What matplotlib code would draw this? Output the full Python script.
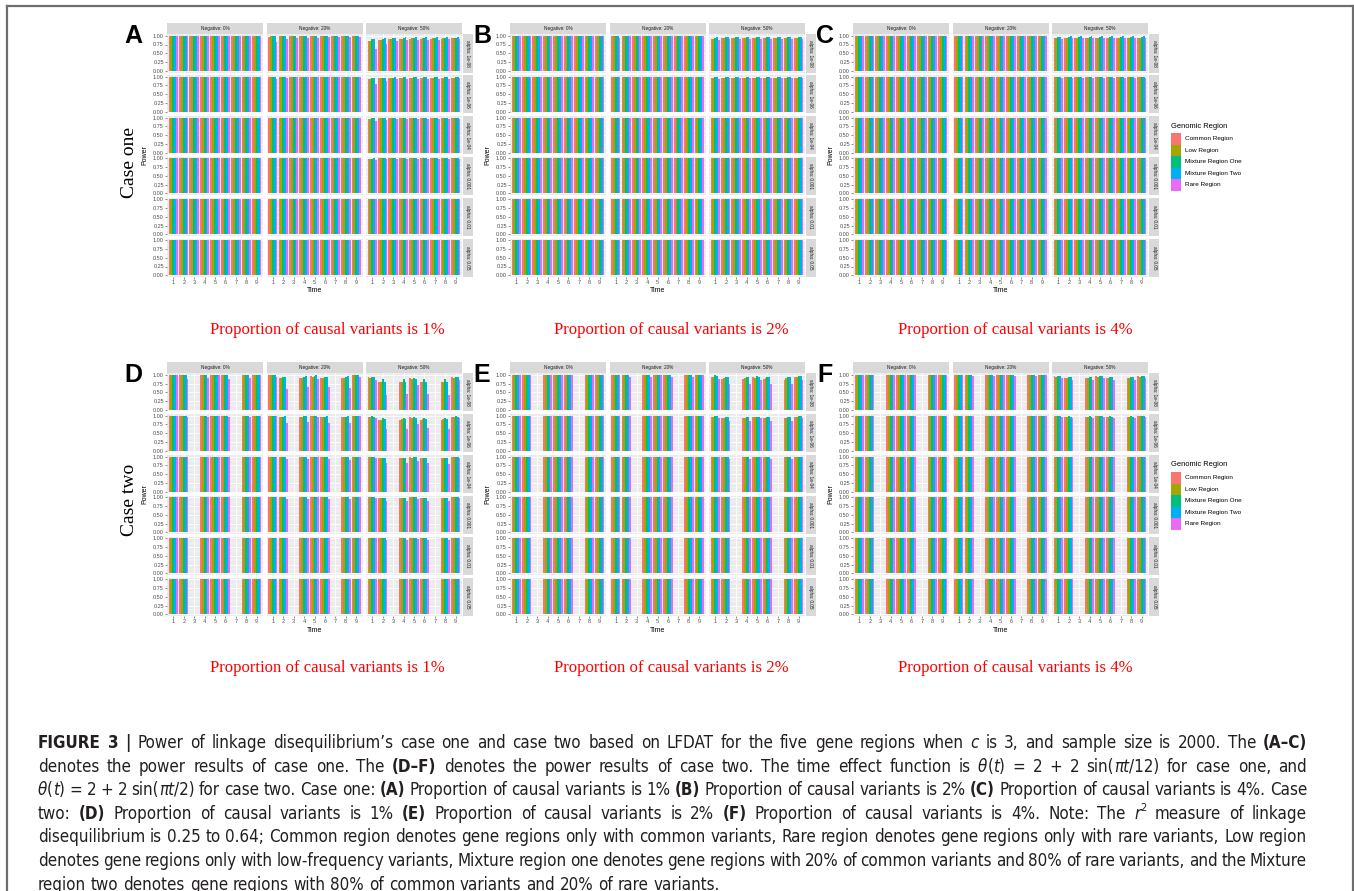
import re
import numpy as np
import matplotlib.pyplot as plt
from matplotlib import font_manager
from matplotlib.patches import Rectangle
from matplotlib.lines import Line2D

W, H = 1354, 891

regions = ["Common Region", "Low Region", "Mixture Region One",
           "Mixture Region Two", "Rare Region"]
region_colors = ["#F8766D", "#A3A500", "#00BF7D", "#00B0F6", "#E76BF3"]
times = [1, 2, 3, 4, 5, 6, 7, 8, 9]
case_two_times = [1, 2, 4, 5, 6, 8, 9]  # theta(t) = 0 at t = 3, 7
negative_levels = ["Negative: 0%", "Negative: 20%", "Negative: 50%"]
alpha_levels = ["alpha: 1e-08", "alpha: 1e-06", "alpha: 1e-04",
                "alpha: 0.001", "alpha: 0.01", "alpha: 0.05"]
proportions = ["1%", "2%", "4%"]
case_names = ["Case one", "Case two"]
full_power = 1.0

# power per facet, key = (negative level, alpha level), one row per time,
# one column per region; facets not listed have full power
power_a = {
    (1, 0): [[0.97, 0.98, 0.98, 0.99, 0.83], [0.98, 0.98, 0.99, 0.99, 0.92],
             [0.98, 0.99, 0.99, 0.99, 0.94], [0.99, 0.99, 0.99, 1.00, 0.95],
             [0.99, 0.99, 1.00, 1.00, 0.95], [0.99, 0.99, 1.00, 1.00, 0.96],
             [0.99, 0.99, 1.00, 1.00, 0.96], [0.99, 0.99, 1.00, 1.00, 0.96],
             [0.99, 0.99, 1.00, 1.00, 0.97]],
    (1, 1): [[0.99, 0.99, 0.99, 1.00, 0.93], [0.99, 0.99, 1.00, 1.00, 0.97],
             [1.00, 1.00, 1.00, 1.00, 0.98], [1.00, 1.00, 1.00, 1.00, 0.98],
             [1.00, 1.00, 1.00, 1.00, 0.98], [1.00, 1.00, 1.00, 1.00, 0.98],
             [1.00, 1.00, 1.00, 1.00, 0.98], [1.00, 1.00, 1.00, 1.00, 0.99],
             [1.00, 1.00, 1.00, 1.00, 0.99]],
    (2, 0): [[0.85, 0.86, 0.90, 0.92, 0.62], [0.87, 0.88, 0.92, 0.94, 0.77],
             [0.90, 0.91, 0.93, 0.95, 0.85], [0.91, 0.92, 0.94, 0.96, 0.87],
             [0.92, 0.93, 0.95, 0.96, 0.88], [0.92, 0.93, 0.95, 0.97, 0.89],
             [0.92, 0.93, 0.95, 0.97, 0.89], [0.92, 0.93, 0.95, 0.97, 0.90],
             [0.93, 0.93, 0.95, 0.97, 0.90]],
    (2, 1): [[0.93, 0.93, 0.95, 0.96, 0.80], [0.95, 0.95, 0.97, 0.97, 0.87],
             [0.96, 0.96, 0.97, 0.98, 0.92], [0.97, 0.97, 0.98, 0.98, 0.93],
             [0.97, 0.97, 0.98, 0.99, 0.94], [0.97, 0.97, 0.98, 0.99, 0.94],
             [0.97, 0.97, 0.98, 0.99, 0.94], [0.97, 0.97, 0.98, 0.99, 0.94],
             [0.97, 0.97, 0.98, 0.99, 0.95]],
    (2, 2): [[0.97, 0.97, 0.98, 0.98, 0.90], [0.98, 0.98, 0.99, 0.99, 0.94],
             [0.99, 0.99, 0.99, 1.00, 0.96], [0.99, 0.99, 0.99, 1.00, 0.96],
             [0.99, 0.99, 0.99, 1.00, 0.96], [0.99, 0.99, 0.99, 1.00, 0.97],
             [0.99, 0.99, 0.99, 1.00, 0.97], [0.99, 0.99, 0.99, 1.00, 0.97],
             [0.99, 0.99, 0.99, 1.00, 0.97]],
    (2, 3): [[0.99, 0.99, 0.99, 1.00, 0.95], [1.00, 1.00, 1.00, 1.00, 0.98],
             [1.00, 1.00, 1.00, 1.00, 0.98], [1.00, 1.00, 1.00, 1.00, 0.99],
             [1.00, 1.00, 1.00, 1.00, 0.99], [1.00, 1.00, 1.00, 1.00, 0.99],
             [1.00, 1.00, 1.00, 1.00, 0.99], [1.00, 1.00, 1.00, 1.00, 0.99],
             [1.00, 1.00, 1.00, 1.00, 0.99]],
}

power_b = {
    (1, 0): [[0.99, 0.99, 0.99, 1.00, 0.95], [1.00, 1.00, 1.00, 1.00, 0.98],
             [1.00, 1.00, 1.00, 1.00, 0.98], [1.00, 1.00, 1.00, 1.00, 0.98],
             [1.00, 1.00, 1.00, 1.00, 0.98], [1.00, 1.00, 1.00, 1.00, 0.98],
             [1.00, 1.00, 1.00, 1.00, 0.98], [1.00, 1.00, 1.00, 1.00, 0.98],
             [1.00, 1.00, 1.00, 1.00, 0.98]],
    (2, 0): [[0.92, 0.92, 0.95, 0.96, 0.88], [0.93, 0.93, 0.96, 0.97, 0.90],
             [0.94, 0.94, 0.96, 0.97, 0.92], [0.94, 0.94, 0.96, 0.97, 0.92],
             [0.94, 0.94, 0.96, 0.97, 0.92], [0.94, 0.94, 0.96, 0.97, 0.92],
             [0.94, 0.94, 0.96, 0.97, 0.92], [0.94, 0.94, 0.96, 0.97, 0.92],
             [0.94, 0.94, 0.96, 0.97, 0.92]],
    (2, 1): [[0.96, 0.96, 0.98, 0.98, 0.93], [0.97, 0.97, 0.98, 0.99, 0.95],
             [0.97, 0.97, 0.98, 0.99, 0.95], [0.97, 0.97, 0.98, 0.99, 0.95],
             [0.97, 0.97, 0.98, 0.99, 0.95], [0.97, 0.97, 0.98, 0.99, 0.95],
             [0.97, 0.97, 0.98, 0.99, 0.95], [0.97, 0.97, 0.98, 0.99, 0.95],
             [0.97, 0.97, 0.98, 0.99, 0.95]],
}

power_c = {
    (2, 0): [[0.94, 0.94, 0.96, 0.97, 0.92], [0.95, 0.95, 0.97, 0.98, 0.95],
             [0.95, 0.95, 0.97, 0.98, 0.95], [0.95, 0.95, 0.97, 0.98, 0.95],
             [0.95, 0.95, 0.97, 0.98, 0.95], [0.95, 0.95, 0.97, 0.98, 0.95],
             [0.95, 0.95, 0.97, 0.98, 0.95], [0.95, 0.95, 0.97, 0.98, 0.95],
             [0.95, 0.95, 0.97, 0.98, 0.95]],
    (2, 1): [[0.98, 0.98, 0.99, 0.99, 0.97], [0.98, 0.98, 0.99, 0.99, 0.97],
             [0.98, 0.98, 0.99, 0.99, 0.97], [0.98, 0.98, 0.99, 0.99, 0.97],
             [0.98, 0.98, 0.99, 0.99, 0.97], [0.98, 0.98, 0.99, 0.99, 0.97],
             [0.98, 0.98, 0.99, 0.99, 0.97], [0.98, 0.98, 0.99, 0.99, 0.97],
             [0.98, 0.98, 0.99, 0.99, 0.97]],
}

# case two rows follow case_two_times
power_d = {
    (0, 0): [[1.00, 1.00, 1.00, 1.00, 0.98], [1.00, 1.00, 1.00, 1.00, 0.88],
             [1.00, 1.00, 1.00, 1.00, 0.90], [1.00, 1.00, 1.00, 1.00, 0.98],
             [1.00, 1.00, 1.00, 1.00, 0.88], [1.00, 1.00, 1.00, 1.00, 0.90],
             [1.00, 1.00, 1.00, 1.00, 0.99]],
    (0, 1): [[1.00, 1.00, 1.00, 1.00, 1.00], [1.00, 1.00, 1.00, 1.00, 0.95],
             [1.00, 1.00, 1.00, 1.00, 0.96], [1.00, 1.00, 1.00, 1.00, 1.00],
             [1.00, 1.00, 1.00, 1.00, 0.95], [1.00, 1.00, 1.00, 1.00, 0.96],
             [1.00, 1.00, 1.00, 1.00, 1.00]],
    (1, 0): [[0.99, 0.99, 0.99, 0.99, 0.95], [0.90, 0.91, 0.94, 0.95, 0.60],
             [0.90, 0.91, 0.93, 0.96, 0.65], [0.97, 0.95, 0.97, 0.99, 0.87],
             [0.90, 0.91, 0.94, 0.95, 0.66], [0.90, 0.91, 0.93, 0.96, 0.63],
             [0.99, 0.99, 0.99, 1.00, 0.95]],
    (1, 1): [[1.00, 1.00, 1.00, 1.00, 0.98], [0.96, 0.96, 0.97, 0.98, 0.80],
             [0.96, 0.96, 0.98, 0.98, 0.81], [0.99, 0.98, 0.99, 1.00, 0.95],
             [0.96, 0.96, 0.97, 0.98, 0.80], [0.96, 0.96, 0.97, 0.98, 0.79],
             [1.00, 1.00, 1.00, 1.00, 0.98]],
    (1, 2): [[1.00, 1.00, 1.00, 1.00, 0.99], [0.99, 0.99, 0.99, 0.99, 0.92],
             [0.99, 0.99, 0.99, 0.99, 0.92], [1.00, 1.00, 1.00, 1.00, 0.99],
             [0.99, 0.99, 0.99, 0.99, 0.92], [0.99, 0.99, 0.99, 0.99, 0.91],
             [1.00, 1.00, 1.00, 1.00, 0.99]],
    (1, 3): [[1.00, 1.00, 1.00, 1.00, 1.00], [1.00, 1.00, 1.00, 1.00, 0.96],
             [1.00, 1.00, 1.00, 1.00, 0.96], [1.00, 1.00, 1.00, 1.00, 1.00],
             [1.00, 1.00, 1.00, 1.00, 0.96], [1.00, 1.00, 1.00, 1.00, 0.96],
             [1.00, 1.00, 1.00, 1.00, 1.00]],
    (2, 0): [[0.93, 0.92, 0.95, 0.94, 0.85], [0.78, 0.80, 0.87, 0.80, 0.42],
             [0.78, 0.80, 0.88, 0.80, 0.44], [0.90, 0.87, 0.90, 0.88, 0.72],
             [0.78, 0.80, 0.87, 0.80, 0.46], [0.78, 0.80, 0.87, 0.80, 0.43],
             [0.93, 0.92, 0.95, 0.94, 0.84]],
    (2, 1): [[0.97, 0.96, 0.98, 0.97, 0.92], [0.87, 0.89, 0.92, 0.90, 0.62],
             [0.88, 0.90, 0.92, 0.90, 0.63], [0.95, 0.93, 0.95, 0.94, 0.75],
             [0.87, 0.90, 0.92, 0.90, 0.64], [0.87, 0.90, 0.92, 0.90, 0.62],
             [0.97, 0.96, 0.98, 0.97, 0.93]],
    (2, 2): [[0.99, 0.99, 0.99, 0.99, 0.97], [0.95, 0.95, 0.97, 0.96, 0.82],
             [0.95, 0.96, 0.97, 0.96, 0.82], [0.98, 0.97, 0.98, 0.98, 0.88],
             [0.95, 0.96, 0.97, 0.96, 0.82], [0.95, 0.95, 0.97, 0.96, 0.80],
             [0.99, 0.99, 0.99, 0.99, 0.97]],
    (2, 3): [[1.00, 1.00, 1.00, 1.00, 0.98], [0.98, 0.98, 0.99, 0.99, 0.90],
             [0.98, 0.98, 0.99, 0.99, 0.90], [1.00, 1.00, 1.00, 1.00, 0.96],
             [0.98, 0.98, 0.99, 0.99, 0.90], [0.98, 0.98, 0.99, 0.99, 0.89],
             [1.00, 1.00, 1.00, 1.00, 0.98]],
    (2, 4): [[1.00, 1.00, 1.00, 1.00, 1.00], [1.00, 1.00, 1.00, 1.00, 0.96],
             [1.00, 1.00, 1.00, 1.00, 0.96], [1.00, 1.00, 1.00, 1.00, 0.99],
             [1.00, 1.00, 1.00, 1.00, 0.96], [1.00, 1.00, 1.00, 1.00, 0.96],
             [1.00, 1.00, 1.00, 1.00, 1.00]],
}

power_e = {
    (1, 0): [[1.00, 1.00, 1.00, 1.00, 0.99], [0.99, 0.99, 0.99, 1.00, 0.93],
             [0.99, 0.99, 0.99, 1.00, 0.93], [1.00, 1.00, 1.00, 1.00, 0.99],
             [0.99, 0.99, 0.99, 1.00, 0.93], [0.99, 0.99, 0.99, 1.00, 0.93],
             [1.00, 1.00, 1.00, 1.00, 0.99]],
    (2, 0): [[0.93, 0.95, 0.98, 0.97, 0.88], [0.88, 0.92, 0.95, 0.93, 0.75],
             [0.88, 0.90, 0.95, 0.93, 0.75], [0.93, 0.92, 0.96, 0.95, 0.85],
             [0.88, 0.90, 0.95, 0.93, 0.74], [0.85, 0.90, 0.95, 0.93, 0.73],
             [0.93, 0.93, 0.97, 0.96, 0.85]],
    (2, 1): [[0.97, 0.97, 0.98, 0.98, 0.94], [0.93, 0.94, 0.96, 0.95, 0.85],
             [0.93, 0.94, 0.96, 0.95, 0.85], [0.96, 0.95, 0.97, 0.97, 0.92],
             [0.93, 0.94, 0.96, 0.95, 0.84], [0.93, 0.94, 0.96, 0.95, 0.84],
             [0.97, 0.97, 0.98, 0.98, 0.94]],
    (2, 2): [[1.00, 1.00, 1.00, 1.00, 0.98], [0.98, 0.98, 0.99, 0.99, 0.93],
             [0.98, 0.98, 0.99, 0.99, 0.93], [1.00, 1.00, 1.00, 1.00, 0.98],
             [0.98, 0.98, 0.99, 0.99, 0.93], [0.98, 0.98, 0.99, 0.99, 0.93],
             [1.00, 1.00, 1.00, 1.00, 0.98]],
}

power_f = {
    (1, 0): [[1.00, 1.00, 1.00, 1.00, 0.99], [0.99, 0.99, 1.00, 1.00, 0.96],
             [0.99, 0.99, 1.00, 1.00, 0.96], [1.00, 1.00, 1.00, 1.00, 0.99],
             [0.99, 0.99, 1.00, 1.00, 0.96], [0.99, 0.99, 1.00, 1.00, 0.96],
             [1.00, 1.00, 1.00, 1.00, 0.99]],
    (2, 0): [[0.96, 0.95, 0.97, 0.97, 0.92], [0.90, 0.91, 0.95, 0.94, 0.86],
             [0.90, 0.91, 0.95, 0.94, 0.86], [0.96, 0.95, 0.97, 0.97, 0.92],
             [0.90, 0.91, 0.95, 0.94, 0.86], [0.90, 0.91, 0.95, 0.94, 0.86],
             [0.96, 0.95, 0.97, 0.97, 0.92]],
    (2, 1): [[0.99, 0.99, 0.99, 0.99, 0.97], [0.96, 0.96, 0.98, 0.97, 0.93],
             [0.96, 0.96, 0.98, 0.97, 0.93], [0.99, 0.99, 0.99, 0.99, 0.97],
             [0.96, 0.96, 0.98, 0.97, 0.93], [0.96, 0.96, 0.98, 0.97, 0.93],
             [0.99, 0.99, 0.99, 0.99, 0.97]],
}

caption_lines = [
    "**FIGURE** **3** **|** Power of linkage disequilibrium’s case one and case two based on LFDAT for the five gene regions when _c_ is 3, and sample size is 2000. The **(A–C)**",
    "denotes the power results of case one. The **(D–F)** denotes the power results of case two. The time effect function is _θ_(_t_) = 2 + 2 sin(_πt_/12) for case one, and",
    "_θ_(_t_) = 2 + 2 sin(_πt_/2) for case two. Case one: **(A)** Proportion of causal variants is 1% **(B)** Proportion of causal variants is 2% **(C)** Proportion of causal variants is 4%. Case",
    "two: **(D)** Proportion of causal variants is 1% **(E)** Proportion of causal variants is 2% **(F)** Proportion of causal variants is 4%. Note: The _r_^2 measure of linkage",
    "disequilibrium is 0.25 to 0.64; Common region denotes gene regions only with common variants, Rare region denotes gene regions only with rare variants, Low region",
    "denotes gene regions only with low-frequency variants, Mixture region one denotes gene regions with 20% of common variants and 80% of rare variants, and the Mixture",
    "region two denotes gene regions with 80% of common variants and 20% of rare variants.",
]

# ---- fonts ----
GG_FONT = "Liberation Sans"
SERIF_FONT = "Liberation Serif"
CAP_FONT, CAP_STRETCH = "Liberation Sans", "normal"
_fonts = font_manager.fontManager.ttflist
_names = {f.name for f in _fonts}
if "Liberation Sans Narrow" in _names:
    CAP_FONT = "Liberation Sans Narrow"
else:
    for f in _fonts:
        if f.name in ("DejaVu Sans", "Noto Sans", "Open Sans", "Roboto") and \
                str(f.stretch) in ("condensed", "semi-condensed", "75", "87.5"):
            CAP_FONT, CAP_STRETCH = f.name, f.stretch
            break

# ---- layout in pixels ----
COL_W, COL_GAP = 96.0, 3.5
ROW_H, ROW_GAP = 38.5, 2.4
STRIP_H, STRIP_W = 11.0, 10.0
panel_origins = [(167, 23), (510, 23), (853, 23),
                 (167, 362), (510, 362), (853, 362)]
letter_x = [133, 482, 825, 133, 482, 825]
panel_letters = ["A", "B", "C", "D", "E", "F"]
panel_power = [power_a, power_b, power_c, power_d, power_e, power_f]

fig = plt.figure(figsize=(W / 100, H / 100), dpi=100)
fig.patch.set_facecolor("white")


def fx(x):
    return x / W


def fy(y):
    return 1 - y / H


def rect(x, y, w, h):
    return [fx(x), fy(y + h), w / W, h / H]


def text_px(x, y, s, **kw):
    return fig.text(fx(x), fy(y), s, **kw)


def box_px(x, y, w, h, color):
    fig.add_artist(Rectangle((fx(x), fy(y + h)), w / W, h / H,
                             transform=fig.transFigure, facecolor=color,
                             edgecolor="none", zorder=1))


def draw_panel(x0, y0, lx, letter, power, obs_times):
    width = 3 * COL_W + 2 * COL_GAP
    for c in range(3):
        left = x0 + c * (COL_W + COL_GAP)
        box_px(left, y0, COL_W, STRIP_H, "#D9D9D9")
        text_px(left + COL_W / 2, y0 + STRIP_H / 2, negative_levels[c],
                ha="center", va="center", fontsize=3.4, color="#1A1A1A",
                family=GG_FONT, zorder=2)
    for r in range(6):
        top = y0 + STRIP_H + r * (ROW_H + ROW_GAP)
        box_px(x0 + width + 1, top, STRIP_W, ROW_H, "#D9D9D9")
        text_px(x0 + width + 1 + STRIP_W / 2, top + ROW_H / 2, alpha_levels[r],
                ha="center", va="center", rotation=-90, fontsize=3.4,
                color="#1A1A1A", family=GG_FONT, zorder=2)
        for c in range(3):
            left = x0 + c * (COL_W + COL_GAP)
            ax = fig.add_axes(rect(left, top, COL_W, ROW_H))
            ax.set_facecolor("#EBEBEB")
            vals = np.array(power.get((c, r), [[full_power] * 5] * len(obs_times)))
            xs = np.array(obs_times, dtype=float)
            for k in range(5):
                ax.bar(xs - 0.36 + 0.18 * k, vals[:, k], width=0.18,
                       color=region_colors[k], linewidth=0, zorder=3)
            ax.set_xlim(0.4, 9.6)
            ax.set_ylim(-0.05, 1.05)
            ax.set_xticks(times)
            ax.set_yticks([0, 0.25, 0.5, 0.75, 1.0])
            ax.set_yticks([0.125, 0.375, 0.625, 0.875], minor=True)
            ax.grid(True, which="major", color="white", linewidth=0.6, zorder=0)
            ax.grid(True, which="minor", axis="y", color="white", linewidth=0.3, zorder=0)
            ax.set_axisbelow(True)
            for sp in ax.spines.values():
                sp.set_visible(False)
            ax.tick_params(which="major", length=1.4, width=0.4, color="#333333",
                           labelsize=4, labelcolor="#4D4D4D", pad=0.8)
            ax.tick_params(which="minor", length=0)
            if c == 0:
                ax.set_yticklabels(["0.00", "0.25", "0.50", "0.75", "1.00"],
                                   family=GG_FONT)
            else:
                ax.tick_params(axis="y", length=0, labelleft=False)
            if r == 5:
                ax.set_xticklabels([str(t) for t in times], family=GG_FONT)
            else:
                ax.tick_params(axis="x", length=0, labelbottom=False)
    bottom = y0 + STRIP_H + 5 * (ROW_H + ROW_GAP) + ROW_H
    text_px(x0 + width / 2, bottom + 14, "Time", ha="center", va="center",
            fontsize=5, color="black", family=GG_FONT)
    text_px(x0 - 22, (y0 + STRIP_H + bottom) / 2, "Power", ha="center",
            va="center", rotation=90, fontsize=5, color="black", family=GG_FONT)
    text_px(lx, y0 + 13, letter, ha="center", va="center", fontsize=18,
            fontweight="bold", family=GG_FONT, color="black")


def draw_legend(x0, y0):
    text_px(x0, y0, "Genomic Region", ha="left", va="center", fontsize=5.4,
            family=GG_FONT, color="black")
    for k, name in enumerate(regions):
        yk = y0 + 7 + 11.5 * k
        box_px(x0, yk, 10, 11.5, region_colors[k])
        text_px(x0 + 14, yk + 5.75, name, ha="left", va="center", fontsize=4.6,
                family=GG_FONT, color="black")


for i in range(6):
    obs = times if i < 3 else case_two_times
    draw_panel(panel_origins[i][0], panel_origins[i][1], letter_x[i],
               panel_letters[i], panel_power[i], obs)

draw_legend(1171, 126)
draw_legend(1171, 465)

for j in range(3):
    for row_y in (330, 668):
        text_px(327 + 344 * j, row_y,
                "Proportion of causal variants is " + proportions[j],
                ha="center", va="center", fontsize=12.1, color="#FF0000",
                family=SERIF_FONT)

text_px(129, 162, case_names[0], rotation=90, ha="center", va="center",
        fontsize=14, family=SERIF_FONT, color="black")
text_px(129, 500, case_names[1], rotation=90, ha="center", va="center",
        fontsize=14, family=SERIF_FONT, color="black")

# outer frame (bottom edge lies below the page)
for (xa, ya), (xb, yb) in [((7, 6), (1353, 6)), ((7, 6), (7, 895)),
                           ((1353, 6), (1353, 895))]:
    fig.add_artist(Line2D([fx(xa), fx(xb)], [fy(ya), fy(yb)],
                          transform=fig.transFigure, color="#6E6E6E",
                          linewidth=1.6))

# ---- justified caption ----
renderer = fig.canvas.get_renderer()


def parse_word(word):
    pieces = []
    for m in re.finditer(r"\*\*(.+?)\*\*|_(.+?)_|\^(.)|([^*_^]+)", word):
        if m.group(1):
            pieces.append((m.group(1), "bold"))
        elif m.group(2):
            pieces.append((m.group(2), "italic"))
        elif m.group(3):
            pieces.append((m.group(3), "sup"))
        else:
            pieces.append((m.group(4), "normal"))
    return pieces


def piece_style(style, size):
    kw = dict(fontsize=size, family=CAP_FONT, fontstretch=CAP_STRETCH,
              color="#231F20", va="baseline", ha="left")
    if style == "bold":
        kw["fontweight"] = "bold"
    elif style == "italic":
        kw["fontstyle"] = "italic"
    elif style == "sup":
        kw["fontsize"] = size * 0.65
    return kw


def measure(s, style, size):
    t = fig.text(0, 0, s, **piece_style(style, size))
    w = t.get_window_extent(renderer).width
    t.remove()
    return w


CAP_LEFT, CAP_RIGHT = 38, 1307
cap_size = 13.0
for _ in range(4):
    space = measure("a a", "normal", cap_size) - measure("aa", "normal", cap_size)
    worst = 0
    for line in caption_lines[:-1]:
        words = line.split(" ")
        total = sum(measure(s, st, cap_size) for w in words for s, st in parse_word(w))
        need = total + 0.7 * space * (len(words) - 1)
        worst = max(worst, need / (CAP_RIGHT - CAP_LEFT))
    if worst <= 1:
        break
    cap_size = cap_size / worst * 0.995

space = measure("a a", "normal", cap_size) - measure("aa", "normal", cap_size)
for li, line in enumerate(caption_lines):
    y = 748 + li * 23.6
    words = [parse_word(w) for w in line.split(" ")]
    widths = [[measure(s, st, cap_size) for s, st in w] for w in words]
    total = sum(sum(ws) for ws in widths)
    if li < len(caption_lines) - 1:
        gap = (CAP_RIGHT - CAP_LEFT - total) / (len(words) - 1)
    else:
        gap = space
    x = CAP_LEFT
    for w, ws in zip(words, widths):
        for (s, st), pw in zip(w, ws):
            dy = -cap_size * 0.45 * 100 / 72 if st == "sup" else 0
            text_px(x, y + dy, s, **piece_style(st, cap_size))
            x += pw
        x += gap

fig.savefig("out.png", dpi=100)
